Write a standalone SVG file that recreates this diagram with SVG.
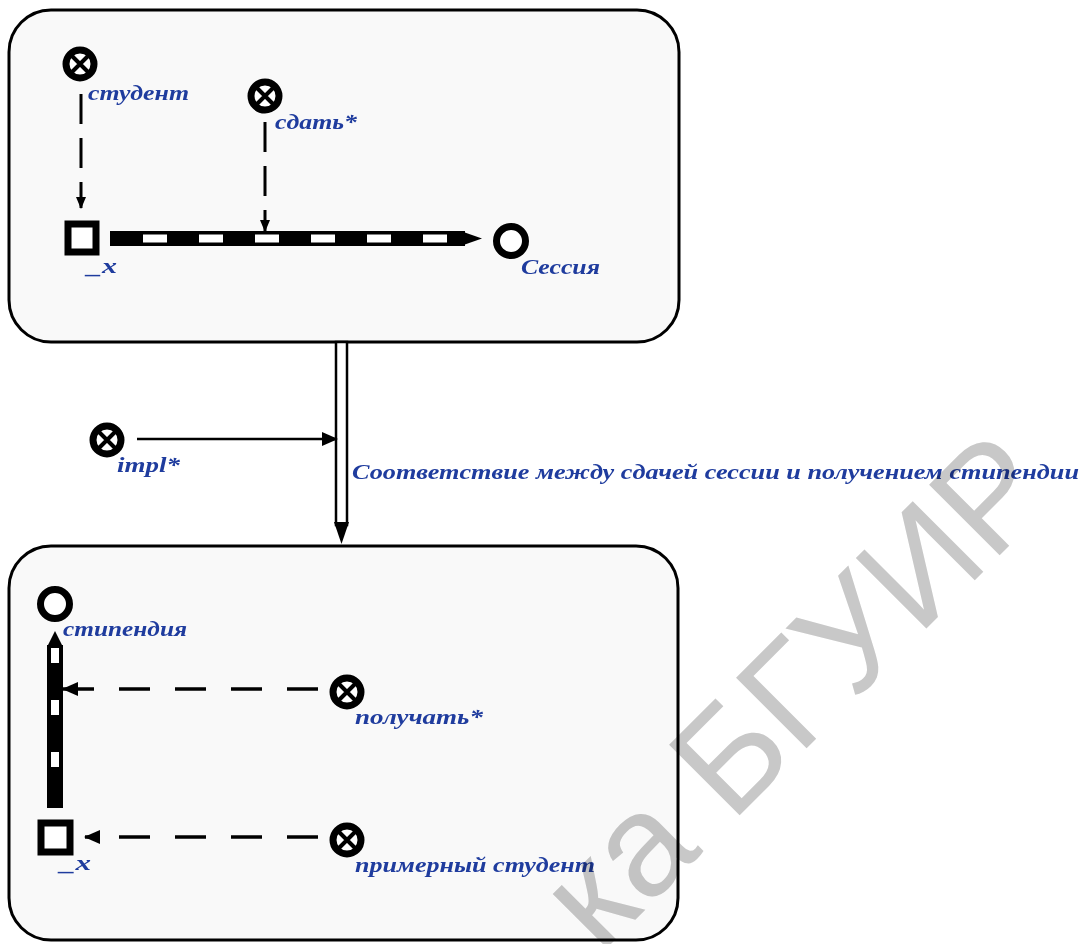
<svg xmlns="http://www.w3.org/2000/svg" width="1084" height="944" viewBox="0 0 1084 944">
<style>
.box{fill:#f9f9f9;stroke:#000;stroke-width:3}
.lbl{font-family:"Liberation Serif",serif;font-style:italic;font-weight:bold;font-size:22px;fill:#1f3c9e}
.vd{stroke:#000;stroke-width:3;stroke-dasharray:30 14;fill:none}
.hd{stroke:#000;stroke-width:3.5;stroke-dasharray:31 25;fill:none}
.wd{fill:#fff}
.cls{fill:#fff;stroke:#000;stroke-width:7}
.sq{fill:#fff;stroke:#000;stroke-width:7}
.wm{font-family:"Liberation Sans",sans-serif;font-size:145px;fill:#c8c8c8;mix-blend-mode:multiply}
</style>
<defs>
<marker id="ah" markerWidth="12" markerHeight="12" refX="11" refY="6" orient="auto" markerUnits="userSpaceOnUse" viewBox="0 0 12 12"><path d="M0,1 L12,6 L0,11 Z" fill="#000"/></marker>
<marker id="ah2" markerWidth="16" markerHeight="16" refX="15" refY="8" orient="auto" markerUnits="userSpaceOnUse" viewBox="0 0 16 16"><path d="M0,1 L16,8 L0,15 Z" fill="#000"/></marker>
<g id="xc"><circle r="14" fill="#fff" stroke="#000" stroke-width="7"/><path d="M-9,-9 L9,9 M9,-9 L-9,9" stroke="#000" stroke-width="4"/></g>
</defs>
<rect width="1084" height="944" fill="#fff"/>
<g id="box-top"><rect class="box" x="9" y="10" width="670" height="332" rx="42"/></g>
<g id="box-bottom"><rect class="box" x="9" y="546" width="669" height="394" rx="42"/></g>
<g id="connectors">
<line class="vd" x1="81" y1="94" x2="81" y2="208" marker-end="url(#ah)"/>
<line class="vd" x1="265" y1="122" x2="265" y2="231" marker-end="url(#ah)"/>
<rect x="110" y="231" width="355" height="15" fill="#000"/>
<path d="M462,231.5 L482,238.5 L462,245.5 Z" fill="#000"/>
<rect class="wd" x="143" y="234.5" width="24" height="8"/>
<rect class="wd" x="199" y="234.5" width="24" height="8"/>
<rect class="wd" x="255" y="234.5" width="24" height="8"/>
<rect class="wd" x="311" y="234.5" width="24" height="8"/>
<rect class="wd" x="367" y="234.5" width="24" height="8"/>
<rect class="wd" x="423" y="234.5" width="24" height="8"/>
<rect x="336" y="342" width="11" height="183" fill="#fff" stroke="#000" stroke-width="2.5"/>
<path d="M334,522 L349,522 L341.5,544 Z" fill="#000"/>
<line x1="137" y1="439" x2="337" y2="439" stroke="#000" stroke-width="2.5" marker-end="url(#ah2)"/>
<rect x="47" y="645" width="16" height="163" fill="#000"/>
<path d="M47,647 L55,631 L63,647 Z" fill="#000"/>
<rect class="wd" x="51" y="648" width="8" height="15"/>
<rect class="wd" x="51" y="700" width="8" height="15"/>
<rect class="wd" x="51" y="752" width="8" height="15"/>
<line class="hd" x1="318" y1="689" x2="63" y2="689" marker-end="url(#ah2)"/>
<line class="hd" x1="318" y1="837" x2="85" y2="837" marker-end="url(#ah2)"/>
</g>
<g id="n-student"><use href="#xc" x="80" y="64"/><text class="lbl" x="88" y="100" textLength="101" lengthAdjust="spacingAndGlyphs">студент</text></g>
<g id="n-sdat"><use href="#xc" x="265" y="96"/><text class="lbl" x="275" y="129" textLength="82" lengthAdjust="spacingAndGlyphs">сдать*</text></g>
<g id="n-x1"><rect class="sq" x="68" y="224" width="28" height="28"/><text class="lbl" x="87" y="273" textLength="30" lengthAdjust="spacingAndGlyphs">_x</text></g>
<g id="n-sessiya"><circle class="cls" cx="511" cy="241" r="14.5"/><text class="lbl" x="521" y="274" textLength="79" lengthAdjust="spacingAndGlyphs">Сессия</text></g>
<g id="n-impl"><use href="#xc" x="107" y="440"/><text class="lbl" x="117" y="472" textLength="63" lengthAdjust="spacingAndGlyphs">impl*</text></g>
<g id="lbl-rel"><text class="lbl" x="352" y="479" textLength="727" lengthAdjust="spacingAndGlyphs">Соответствие между сдачей сессии и получением стипендии</text></g>
<g id="n-stip"><circle class="cls" cx="55" cy="604" r="14.5"/><text class="lbl" x="63" y="636" textLength="124" lengthAdjust="spacingAndGlyphs">стипендия</text></g>
<g id="n-poluchat"><use href="#xc" x="347" y="692"/><text class="lbl" x="355" y="724" textLength="128" lengthAdjust="spacingAndGlyphs">получать*</text></g>
<g id="n-x2"><rect class="sq" x="41" y="823" width="29" height="29"/><text class="lbl" x="60" y="870" textLength="31" lengthAdjust="spacingAndGlyphs">_x</text></g>
<g id="n-primer"><use href="#xc" x="347" y="840"/><text class="lbl" x="355" y="872" textLength="240" lengthAdjust="spacingAndGlyphs">примерный студент</text></g>
<text class="wm" x="0" y="0" transform="translate(600,955) rotate(-45)" textLength="650" lengthAdjust="spacing">ка БГУИР</text>
</svg>
